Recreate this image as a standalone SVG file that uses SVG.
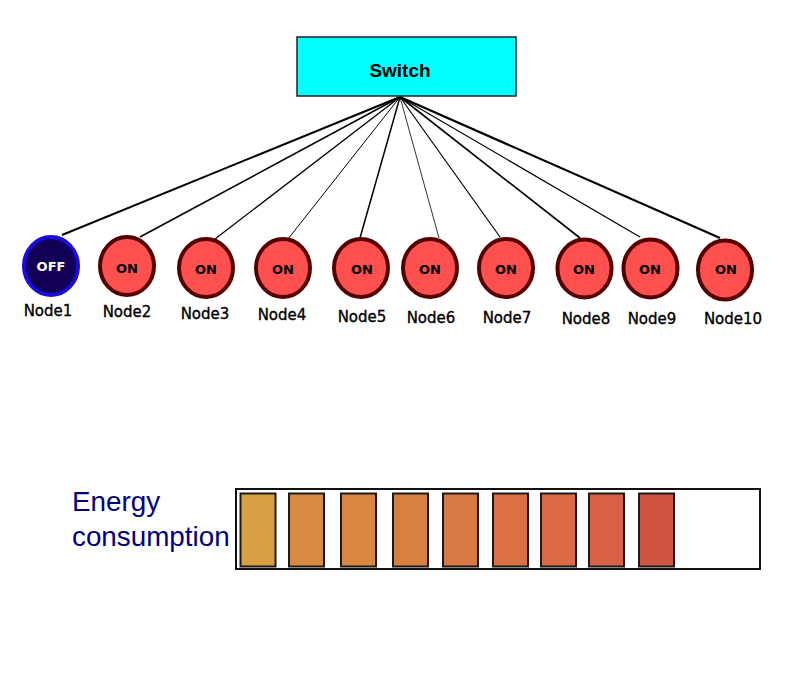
<svg xmlns="http://www.w3.org/2000/svg" width="800" height="698" viewBox="0 0 800 698">
<style>
.on{fill:#ff5050;stroke:#550000;stroke-width:4}
.ont{font-family:"DejaVu Sans",sans-serif;font-weight:bold;font-size:13px;fill:#000;text-anchor:middle}
.lbl{font-family:"DejaVu Sans",sans-serif;font-size:15px;fill:#000;stroke:#000;stroke-width:0.35;text-anchor:middle}
.bar{stroke:#1a1a1a;stroke-width:2}
.en{font-family:"Liberation Sans",Arial,sans-serif;font-size:27.8px;fill:#000080}
</style>
<rect width="800" height="698" fill="#fff"/>
<g id="connectors" stroke="#000" fill="none">
<line x1="400" y1="97" x2="62" y2="235" stroke-width="2"/>
<line x1="400" y1="97" x2="140" y2="237" stroke-width="1.6"/>
<line x1="400" y1="97" x2="215" y2="239" stroke-width="1.3"/>
<line x1="400" y1="97" x2="288" y2="239" stroke-width="1"/>
<line x1="400" y1="97" x2="360" y2="238" stroke-width="1.5"/>
<line x1="400" y1="97" x2="439" y2="238" stroke-width="0.8"/>
<line x1="400" y1="97" x2="500" y2="237" stroke-width="1.2"/>
<line x1="400" y1="97" x2="580" y2="238" stroke-width="1.6"/>
<line x1="400" y1="97" x2="640" y2="237" stroke-width="1.2"/>
<line x1="400" y1="97" x2="720" y2="238" stroke-width="2.2"/>
</g>
<g id="switch">
<rect x="297" y="37" width="219" height="59" fill="#00ffff" stroke="#222" stroke-width="1.5"/>
<text x="400" y="77" font-family="Liberation Sans,Arial,sans-serif" font-weight="bold" font-size="19" text-anchor="middle">Switch</text>
</g>
<g id="node1">
<ellipse cx="51" cy="266" rx="27" ry="29" fill="#110055" stroke="#1a0adb" stroke-width="4"/>
<text x="51" y="271" class="ont" style="fill:#fff">OFF</text>
<text x="48" y="316" class="lbl">Node1</text>
</g>
<g id="node2">
<ellipse cx="127" cy="266" rx="27" ry="29" class="on"/>
<text x="127" y="273" class="ont">ON</text>
<text x="127" y="317" class="lbl">Node2</text>
</g>
<g id="node3">
<ellipse cx="206" cy="268" rx="27" ry="29" class="on"/>
<text x="206" y="274" class="ont">ON</text>
<text x="205" y="319" class="lbl">Node3</text>
</g>
<g id="node4">
<ellipse cx="283" cy="268" rx="27" ry="29" class="on"/>
<text x="283" y="274" class="ont">ON</text>
<text x="282" y="320" class="lbl">Node4</text>
</g>
<g id="node5">
<ellipse cx="361" cy="268" rx="27" ry="29" class="on"/>
<text x="362" y="274" class="ont">ON</text>
<text x="362" y="322" class="lbl">Node5</text>
</g>
<g id="node6">
<ellipse cx="430" cy="268" rx="27" ry="29" class="on"/>
<text x="430" y="274" class="ont">ON</text>
<text x="431" y="323" class="lbl">Node6</text>
</g>
<g id="node7">
<ellipse cx="506" cy="268" rx="27" ry="29" class="on"/>
<text x="506" y="274" class="ont">ON</text>
<text x="507" y="323" class="lbl">Node7</text>
</g>
<g id="node8">
<ellipse cx="584.5" cy="268.5" rx="27" ry="29" class="on"/>
<text x="584" y="274" class="ont">ON</text>
<text x="586" y="324" class="lbl">Node8</text>
</g>
<g id="node9">
<ellipse cx="650.5" cy="268.5" rx="27" ry="29" class="on"/>
<text x="650" y="274" class="ont">ON</text>
<text x="652" y="324" class="lbl">Node9</text>
</g>
<g id="node10">
<ellipse cx="725" cy="270" rx="27" ry="29.5" class="on"/>
<text x="726" y="274" class="ont">ON</text>
<text x="733" y="324" class="lbl">Node10</text>
</g>
<g id="energy">
<text x="72" y="511" class="en">Energy</text>
<text x="72" y="546" class="en">consumption</text>
<rect x="236" y="489" width="524" height="80" fill="#fff" stroke="#111" stroke-width="2"/>
<rect x="240.5" y="493.5" width="35" height="73" class="bar" fill="#d8a040"/>
<rect x="289" y="493.5" width="35" height="73" class="bar" fill="#d88a42"/>
<rect x="341" y="493.5" width="35" height="73" class="bar" fill="#d88842"/>
<rect x="393" y="493.5" width="35" height="73" class="bar" fill="#d88042"/>
<rect x="443" y="493.5" width="35" height="73" class="bar" fill="#d87842"/>
<rect x="493" y="493.5" width="35" height="73" class="bar" fill="#da7044"/>
<rect x="541" y="493.5" width="35" height="73" class="bar" fill="#dc6a44"/>
<rect x="589" y="493.5" width="35" height="73" class="bar" fill="#da6244"/>
<rect x="639" y="493.5" width="35" height="73" class="bar" fill="#d05442"/>
</g>
</svg>
